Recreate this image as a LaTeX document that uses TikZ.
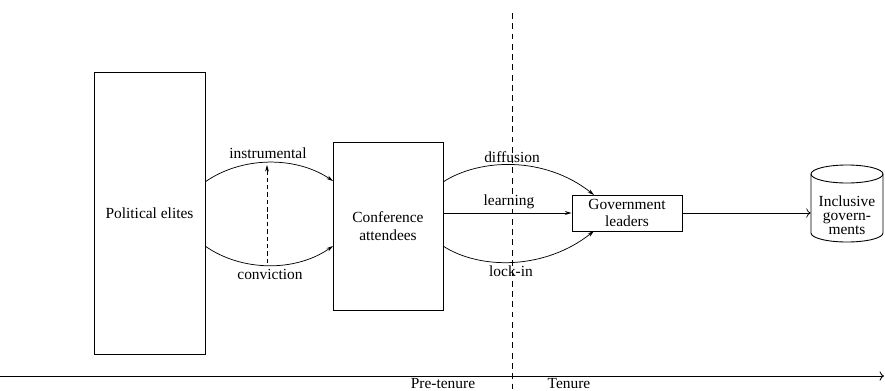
\documentclass[tikz,border=0pt]{standalone}
\usepackage{fontspec}
\setmainfont{Liberation Serif}
\usetikzlibrary{arrows.meta}
\begin{document}
\begin{tikzpicture}[x=0.68pt,y=-0.68pt,
  box/.style={draw,line width=0.6pt,align=center,inner sep=0pt},
  flow/.style={line width=0.5pt,-{Stealth[length=4.5pt,width=2.6pt]}},
  lbl/.style={inner sep=0pt,font=\fontsize{10.5}{12}\selectfont},
  every node/.style={font=\fontsize{10.5}{12}\selectfont}]
\useasboundingbox (0,0) rectangle (885,390);
\node[box,minimum width=111*0.68pt,minimum height=282*0.68pt] (pe) at (149.5,213) {Political elites};
\node[box,minimum width=110*0.68pt,minimum height=168*0.68pt] (ca) at (388,226) {Conference\\attendees};
\node[box,minimum width=110*0.68pt,minimum height=36*0.68pt] (gl) at (627,213) {Government\\leaders};
% cylinder
\draw[line width=0.6pt] (847,174) ellipse [x radius=36, y radius=9];
\draw[line width=0.6pt] (811,174) -- (811,233) arc[start angle=180,end angle=0,x radius=36,y radius=9] -- (883,174);
\node[align=center,inner sep=0pt,minimum width=72*0.68pt,minimum height=59*0.68pt,font=\fontsize{10.5}{9.5}\selectfont] (ig) at (847,215) {Inclusive\\govern-\\ments};
% left curves
\coordinate (a1) at (205,182);
\coordinate (b1) at (333,181);
\coordinate (a2) at (205,246);
\coordinate (b2) at (333,246);
\draw[flow] (a1) .. controls (242,156) and (296,156) .. (b1);
\draw[flow] (a2) .. controls (242,272) and (296,272) .. (b2);
\node[lbl] (ins) at (268,153) {instrumental};
\node[lbl] (con) at (270,274) {conviction};
\coordinate (d1) at (267,263);
\coordinate (d2) at (267,165);
\draw[flow,dashed,dash pattern=on 3pt off 2pt] (d1) -- (d2);
% right curves
\coordinate (c1) at (443,182);
\coordinate (c2) at (443,246);
\coordinate (c3) at (443,213);
\coordinate (e1) at (594,195);
\coordinate (e2) at (594,231);
\draw[flow] (c1) .. controls (480,158) and (545,156) .. (e1);
\draw[flow] (c2) .. controls (480,270) and (545,270) .. (e2);
\draw[flow] (c3) -- (gl.west);
\node[lbl] (dif) at (512,157) {diffusion};
\node[lbl] (lea) at (509,202) {learning};
\node[lbl] (loc) at (511,271) {lock-in};
\draw[line width=0.5pt,-{To[length=3pt]}] (gl.east) -- (gl.east -| ig.west);
% timeline
\coordinate (t0) at (0,376);
\coordinate (t1) at (884,376);
\draw[line width=0.6pt,-{To[length=3pt]}] (t0) -- (t1);
\coordinate (v0) at (512,13);
\coordinate (v1) at (512,390);
\draw[line width=0.4pt,dashed,dash pattern=on 4pt off 3pt] (v0) -- (v1);
\node[lbl,anchor=base] (pre) at (443,388) {Pre-tenure};
\node[lbl,anchor=base] (ten) at (569,388) {Tenure};
\end{tikzpicture}
\end{document}
